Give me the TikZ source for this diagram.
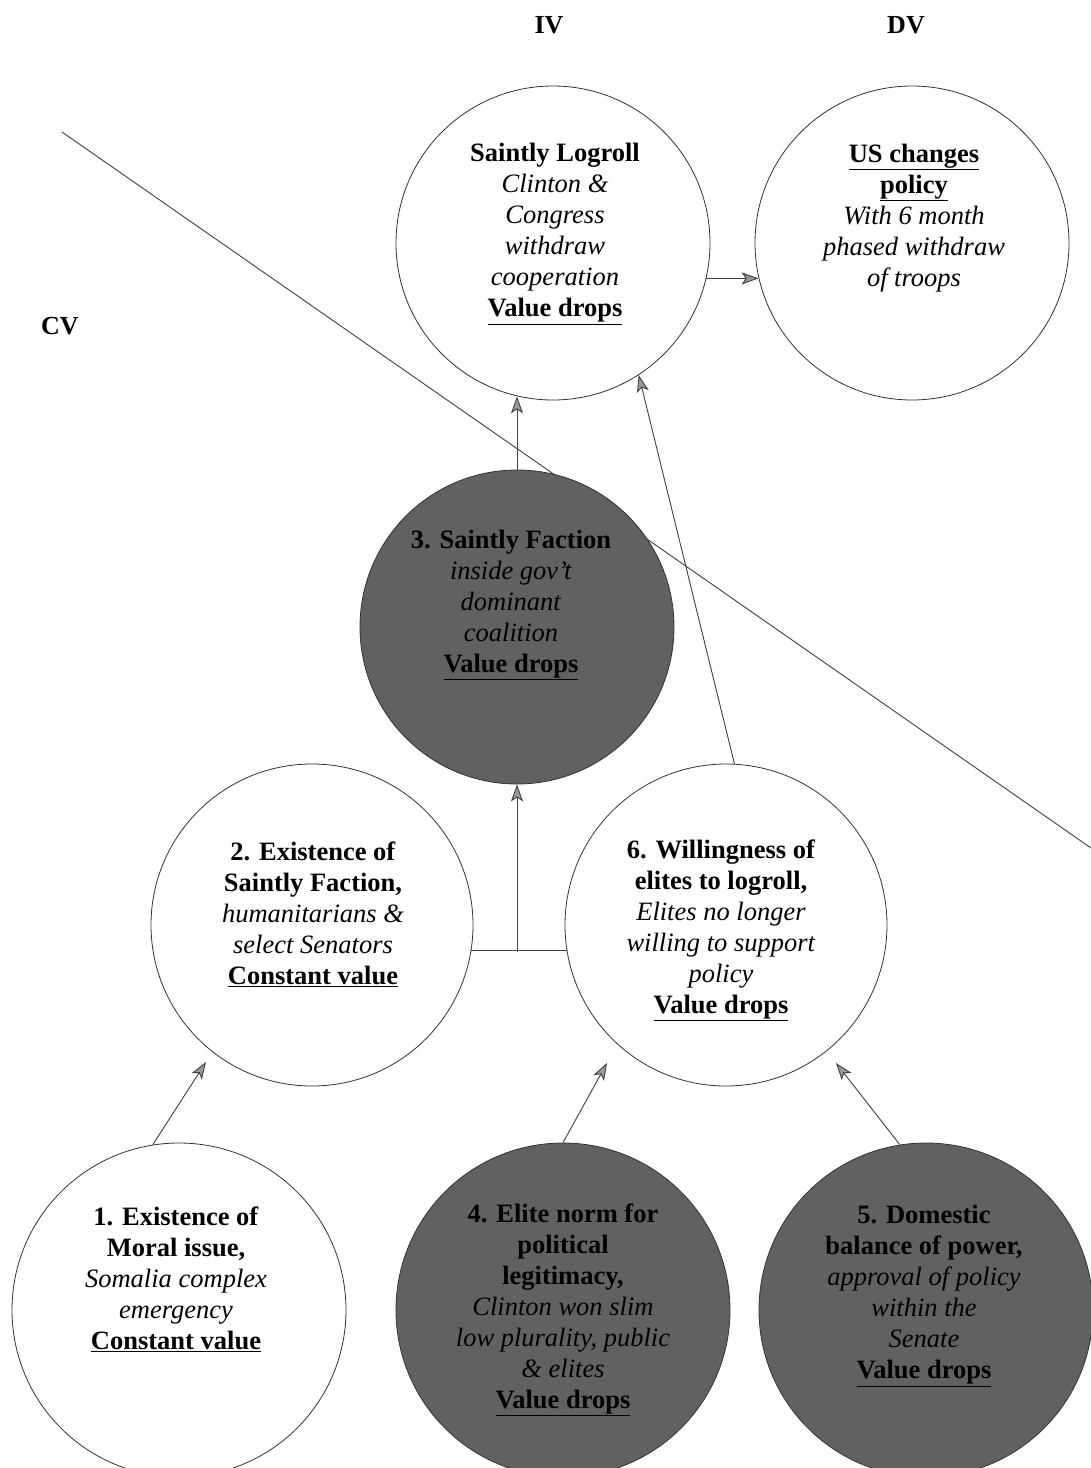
\documentclass[tikz,border=0pt]{standalone}
\usepackage{fontspec}
\setmainfont{Liberation Serif}
\usetikzlibrary{shapes.geometric,arrows.meta}
\tikzset{
  x=1pt,y=-1pt,
  topc/.style={circle,draw=black!80,line width=0.8pt,minimum size=314pt,inner sep=0pt},
  midc/.style={circle,draw=black!80,line width=0.8pt,minimum size=322pt,inner sep=0pt,fill=white},
  botc/.style={circle,draw=black!80,line width=0.8pt,minimum size=334pt,inner sep=0pt,fill=white},
  dark/.style={fill=black!62},
  txt/.style={align=center,inner sep=0pt,font=\fontsize{26.5}{31}\selectfont},
  hdr/.style={inner sep=0pt,font=\fontsize{26}{30}\selectfont\bfseries},
  arr/.style={draw=black!75,line width=0.9pt,-{Stealth[length=17pt,width=12pt,inset=4pt,fill=black!40]}},
  ln/.style={draw=black!75,line width=0.9pt}
}
\begin{document}
\begin{tikzpicture}
\useasboundingbox[fill=white] (0,0) rectangle (1091,1468);

% headers
\node[hdr] (hIV) at (549,25) {IV};
\node[hdr] (hDV) at (906,25) {DV};
\node[hdr] (hCV) at (60,326) {CV};

% diagonal divider
\coordinate (dA) at (62,132);
\coordinate (dB) at (1091,848);
\draw[ln] (dA) -- (dB);

% top circles
\node[topc] (lr) at (553,243) {};
\node[topc] (us) at (912,243) {};
\node[txt] (lrt) at (555,234) {\textbf{Saintly Logroll}\\ \textit{Clinton \&}\\ \textit{Congress}\\ \textit{withdraw}\\ \textit{cooperation}\\ \textbf{\underline{Value drops}}};
\node[txt] (ust) at (914,218) {\textbf{\underline{US changes}}\\ \textbf{\underline{policy}}\\ \textit{With 6 month}\\ \textit{phased withdraw}\\ \textit{of troops}};

% middle
\node[topc,dark] (c3) at (517,627) {};
\node[txt] (c3t) at (511,605) {\textbf{3. Saintly Faction}\\ \textit{inside gov't}\\ \textit{dominant}\\ \textit{coalition}\\ \textbf{\underline{Value drops}}};

\node[midc] (c2) at (312,925) {};
\node[txt] (c2t) at (313,914) {\textbf{2. Existence of}\\ \textbf{Saintly Faction,}\\ \textit{humanitarians \&}\\ \textit{select Senators}\\ \textbf{\underline{Constant value}}};

\node[midc] (c6) at (726,925) {};
\node[txt] (c6t) at (721,930) {\textbf{6. Willingness of}\\ \textbf{elites to logroll,}\\ \textit{Elites no longer}\\ \textit{willing to support}\\ \textit{policy}\\ \textbf{\underline{Value drops}}};

% bottom
\node[botc] (c1) at (179,1310) {};
\node[txt] (c1t) at (176,1279) {\textbf{1. Existence of}\\ \textbf{Moral issue,}\\ \textit{Somalia complex}\\ \textit{emergency}\\ \textbf{\underline{Constant value}}};

\node[botc,dark] (c4) at (563,1310) {};
\node[txt] (c4t) at (563,1310) {\textbf{4. Elite norm for}\\ \textbf{political}\\ \textbf{legitimacy,}\\ \textit{Clinton won slim}\\ \textit{low plurality, public}\\ \textit{\& elites}\\ \textbf{\underline{Value drops}}};

\node[botc,dark] (c5) at (926,1310) {};
\node[txt] (c5t) at (924,1296) {\textbf{5. Domestic}\\ \textbf{balance of power,}\\ \textit{approval of policy}\\ \textit{within the}\\ \textit{Senate}\\ \textbf{\underline{Value drops}}};

% connectors
\coordinate (t12) at (206,1062);
\coordinate (t46) at (607,1063);
\coordinate (t56) at (836,1063);
\draw[arr] (c1.99) -- (t12);
\draw[arr] (c4.north) -- (t46);
\draw[arr] (c5.99) -- (t56);

\coordinate (jn) at (517,952);
\draw[ln] (c2.-9.7) -- (c6.189.7);
\draw[arr] (jn) -- (c3.south);
\draw[arr] (c3.north) -- (c3.north |- lr.-103);

\draw[arr] (c6.87) -- (lr.-57);
\draw[arr] (lr.-13) -- (us.193);
\end{tikzpicture}
\end{document}
